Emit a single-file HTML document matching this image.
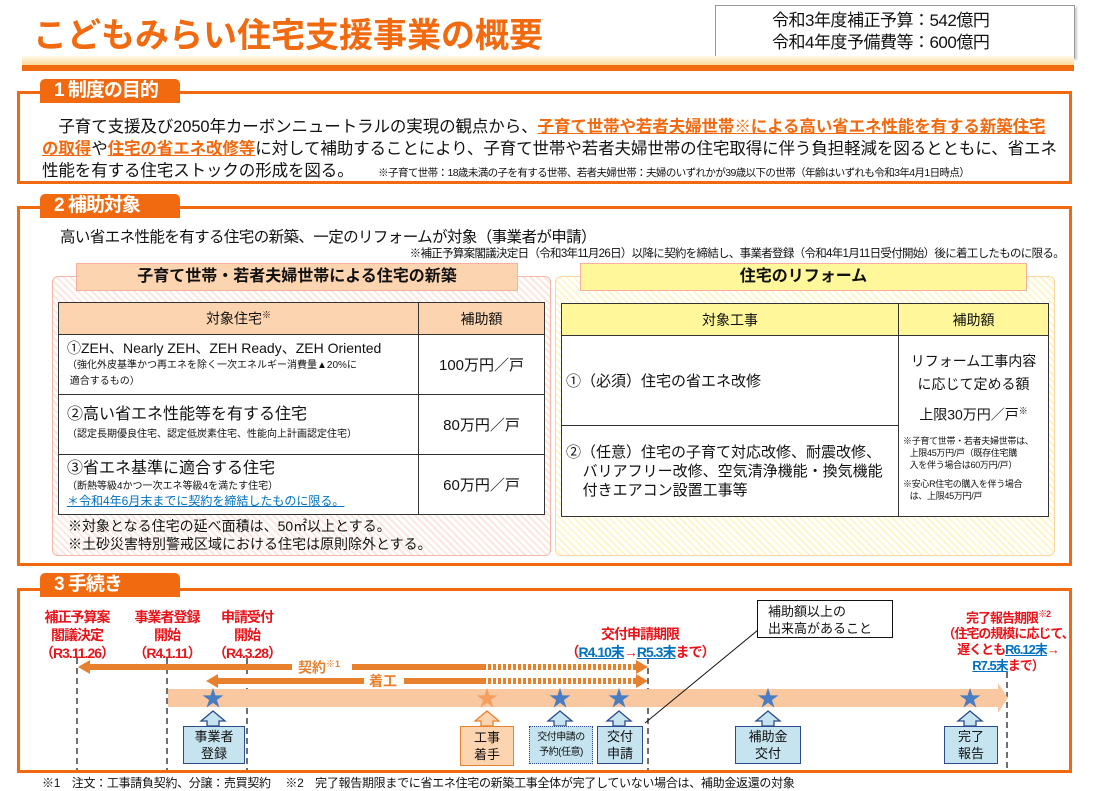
<!DOCTYPE html>
<html><head><meta charset="utf-8"><style>
*{margin:0;padding:0;box-sizing:border-box}
body{width:1100px;height:791px;background:#fff;position:relative;overflow:hidden;font-family:"Liberation Sans","Noto Sans CJK JP",sans-serif;color:#111}
.a{position:absolute;white-space:nowrap}
.tab{position:absolute;background:#f26a10;color:#fff;font-size:19px;font-weight:bold;border-radius:5px 5px 0 0;padding-left:14px;line-height:24px;letter-spacing:-1px}
.box{position:absolute;border:3px solid #f26a10}
.o{color:#f26a10;font-weight:bold;text-decoration:underline}
.r{color:#e8141a;font-weight:bold;text-align:center;font-size:14px;line-height:18px;letter-spacing:-1px}
.b{color:#0070c0;text-decoration:underline}
table{border-collapse:collapse;position:absolute;background:#fff}
td{border:1.5px solid #333;vertical-align:middle}
.tb{position:absolute;background:#c6e4ef;border:1.5px solid #2a4b8c;font-size:13px;text-align:center;line-height:17px;display:flex;align-items:center;justify-content:center}
</style></head><body>
<div class="a" style="left:33px;top:8px;font-size:34px;font-weight:bold;color:#f26a10;letter-spacing:0px">こどもみらい住宅支援事業の概要</div>
<div class="a" style="left:715px;top:5px;width:360px;height:53px;border:1px solid #999;box-shadow:2px 2px 2px #ccc;font-size:17px;line-height:22px;padding:4px 0 0 56px;letter-spacing:-0.5px">令和3年度補正予算：542億円<br>令和4年度予備費等：600億円</div>
<div class="a" style="left:22px;top:56px;width:1052px;height:9px;background:linear-gradient(#fffbe8,#fbd89a)"></div>
<div class="a" style="left:22px;top:65px;width:1052px;height:6px;background:#f26a10"></div>

<div class="box" style="left:17px;top:91px;width:1055px;height:93px"></div>
<div class="tab" style="left:40px;top:79px;width:140px">1 制度の目的</div>
<div class="a" style="left:42px;top:116px;font-size:16.5px;line-height:22px;letter-spacing:-0.1px">　子育て支援及び2050年カーボンニュートラルの実現の観点から、<span class="o">子育て世帯や若者夫婦世帯※による高い省エネ性能を有する新築住宅</span><br><span class="o">の取得</span>や<span class="o">住宅の省エネ改修等</span>に対して補助することにより、子育て世帯や若者夫婦世帯の住宅取得に伴う負担軽減を図るとともに、省エネ<br>性能を有する住宅ストックの形成を図る。　　<span style="font-size:10.5px;letter-spacing:-0.6px">※子育て世帯：18歳未満の子を有する世帯、若者夫婦世帯：夫婦のいずれかが39歳以下の世帯（年齢はいずれも令和3年4月1日時点）</span></div>

<div class="box" style="left:17px;top:206px;width:1055px;height:360px"></div>
<div class="tab" style="left:40px;top:194px;width:140px">2 補助対象</div>
<div class="a" style="left:60px;top:225px;font-size:15.5px;letter-spacing:-0.6px">高い省エネ性能を有する住宅の新築、一定のリフォームが対象（事業者が申請）</div>
<div class="a" style="right:36px;top:245px;font-size:11.5px;letter-spacing:-0.7px">※補正予算案閣議決定日（令和3年11月26日）以降に契約を締結し、事業者登録（令和4年1月11日受付開始）後に着工したものに限る。</div>

<div class="a" style="left:52px;top:276px;width:499px;height:280px;border:1.5px solid #f4b6a8;border-radius:6px;background:repeating-linear-gradient(45deg,#fff 0 3px,#fde6df 3px 5px)"></div>
<div class="a" style="left:76px;top:263px;width:442px;height:28px;background:#fcd5b0;border:1.5px solid #f5b0a0;font-size:16px;font-weight:bold;text-align:center;line-height:26px">子育て世帯・若者夫婦世帯による住宅の新築</div>
<table style="left:58px;top:302px;width:487px">
<tr style="height:32px;background:#fcd5b0;font-size:14px;text-align:center"><td style="width:360px">対象住宅<sup style="font-size:9px">※</sup></td><td>補助額</td></tr>
<tr style="height:60px"><td style="padding-left:8px;font-size:14px;line-height:15px">①ZEH、Nearly ZEH、ZEH Ready、ZEH Oriented<br><span style="font-size:10px;line-height:12px">（強化外皮基準かつ再エネを除く一次エネルギー消費量▲20%に<br>&nbsp;適合するもの）</span></td><td style="text-align:center;font-size:15px">100万円／戸</td></tr>
<tr style="height:60px"><td style="padding-left:8px;font-size:16px;line-height:18px">②高い省エネ性能等を有する住宅<br><span style="font-size:10px">（認定長期優良住宅、認定低炭素住宅、性能向上計画認定住宅）</span></td><td style="text-align:center;font-size:15px">80万円／戸</td></tr>
<tr style="height:60px"><td style="padding-left:8px;font-size:16px;line-height:16px">③省エネ基準に適合する住宅<br><span style="font-size:10px;line-height:13px">（断熱等級4かつ一次エネ等級4を満たす住宅）<br><span class="b" style="font-size:12px">＊令和4年6月末までに契約を締結したものに限る。</span></span></td><td style="text-align:center;font-size:15px">60万円／戸</td></tr>
</table>
<div class="a" style="left:68px;top:517px;font-size:14px;line-height:18px">※対象となる住宅の延べ面積は、50㎡以上とする。<br>※土砂災害特別警戒区域における住宅は原則除外とする。</div>

<div class="a" style="left:555px;top:276px;width:500px;height:280px;border:1.5px solid #fbd6a0;border-radius:6px;background:repeating-linear-gradient(45deg,#fff 0 3px,#fdf6cc 3px 5px)"></div>
<div class="a" style="left:580px;top:263px;width:447px;height:28px;background:#fff799;border:1.5px solid #f5b0a0;font-size:16px;font-weight:bold;text-align:center;line-height:26px">住宅のリフォーム</div>
<table style="left:561px;top:303px;width:488px">
<tr style="height:32px;background:#fff799;font-size:14px;text-align:center"><td style="width:337px">対象工事</td><td>補助額</td></tr>
<tr style="height:90px"><td style="padding-left:4px;font-size:15px">①（必須）住宅の省エネ改修</td><td rowspan="2" style="text-align:center;vertical-align:top;padding-top:14px"><div style="font-size:14px;line-height:23px">リフォーム工事内容<br>に応じて定める額</div><div style="font-size:14px;margin-top:8px">上限30万円／戸<sup style="font-size:9px">※</sup></div><div style="font-size:9px;text-align:left;line-height:12px;margin:10px 0 0 4px;letter-spacing:-0.3px">※子育て世帯・若者夫婦世帯は、<br>&nbsp;&nbsp;&nbsp;上限45万円/戸（既存住宅購<br>&nbsp;&nbsp;&nbsp;入を伴う場合は60万円/戸）<div style="margin-top:7px">※安心R住宅の購入を伴う場合<br>&nbsp;&nbsp;&nbsp;は、上限45万円/戸</div></div></td></tr>
<tr style="height:91px"><td style="padding-left:4px;font-size:15px;line-height:19px">②（任意）住宅の子育て対応改修、耐震改修、<br>&nbsp;&nbsp;&nbsp;&nbsp;バリアフリー改修、空気清浄機能・換気機能<br>&nbsp;&nbsp;&nbsp;&nbsp;付きエアコン設置工事等</td></tr>
</table>

<div class="box" style="left:17px;top:588px;width:1055px;height:185px"></div>
<div class="tab" style="left:40px;top:573px;width:140px">3 手続き</div>

<svg class="a" style="left:0;top:0" width="1100" height="791">
<g stroke="#111" stroke-width="1.2" stroke-dasharray="6,4">
<line x1="77" y1="658" x2="77" y2="770"/><line x1="167" y1="658" x2="167" y2="770"/><line x1="247" y1="658" x2="247" y2="770"/><line x1="648" y1="658" x2="648" y2="770"/><line x1="1007" y1="672" x2="1007" y2="770"/>
</g>
<polygon points="168,689 998,689 998,683 1008,698 998,713 998,707 168,707" fill="#f9c8a0"/>
<g fill="#e8812d">
<rect x="88" y="664" width="204" height="6"/><polygon points="78,667 90,660 90,674"/>
<rect x="352" y="664" width="134" height="6"/>
<rect x="218" y="678" width="146" height="6"/><polygon points="206,681 218,674 218,688"/>
<rect x="404" y="678" width="82" height="6"/>
<polygon points="636,660 648,667 636,674"/><polygon points="636,674 648,681 636,688"/>
</g>
<g stroke="#e8812d" stroke-width="6" stroke-dasharray="3,2"><line x1="488" y1="667" x2="636" y2="667"/><line x1="488" y1="681" x2="636" y2="681"/></g>
<g fill="#4a7ec4">
<text x="213" y="706" font-size="22" text-anchor="middle">★</text>
<text x="560" y="706" font-size="22" text-anchor="middle">★</text>
<text x="619" y="706" font-size="22" text-anchor="middle">★</text>
<text x="768" y="706" font-size="22" text-anchor="middle">★</text>
<text x="970" y="706" font-size="22" text-anchor="middle">★</text>
</g>
<text x="487" y="706" font-size="22" text-anchor="middle" fill="#f5a060">★</text>
<g stroke="#2a4b8c" stroke-width="1.3" fill="#c6e4ef">
<polygon points="213,711 225,721 219,721 219,726 207,726 207,721 201,721"/>
<polygon points="560,711 572,721 566,721 566,726 554,726 554,721 548,721"/>
<polygon points="619,711 631,721 625,721 625,726 613,726 613,721 607,721"/>
<polygon points="768,711 780,721 774,721 774,726 762,726 762,721 756,721"/>
<polygon points="970,711 982,721 976,721 976,726 964,726 964,721 958,721"/>
</g>
<polygon points="487,711 499,721 493,721 493,726 481,726 481,721 475,721" fill="#fcd5b0" stroke="#e8812d" stroke-width="1.3"/>
<line x1="758" y1="630" x2="645" y2="723" stroke="#111" stroke-width="1"/>
</svg>
<div class="a" style="left:298px;top:657px;font-size:14px;font-weight:bold;color:#e8812d">契約<sup style="font-size:9px">※1</sup></div>
<div class="a" style="left:369px;top:671px;font-size:14px;font-weight:bold;color:#e8812d">着工</div>

<div class="tb" style="left:183px;top:726px;width:62px;height:38px">事業者<br>登録</div>
<div class="tb" style="left:460px;top:726px;width:54px;height:40px;background:#fcd5b0;border-color:#e8812d">工事<br>着手</div>
<div class="tb" style="left:529px;top:726px;width:64px;height:38px;border-style:dotted;font-size:10px;line-height:15px;letter-spacing:-0.5px">交付申請の<br>予約(任意)</div>
<div class="tb" style="left:597px;top:726px;width:46px;height:38px">交付<br>申請</div>
<div class="tb" style="left:735px;top:726px;width:66px;height:38px">補助金<br>交付</div>
<div class="tb" style="left:944px;top:726px;width:54px;height:38px">完了<br>報告</div>
<div class="a" style="left:757px;top:600px;width:136px;height:38px;border:1.5px solid #111;background:#fff;font-size:13px;line-height:17px;padding:2px 0 0 10px">補助額以上の<br>出来高があること</div>

<div class="a r" style="left:27px;top:608px;width:100px">補正予算案<br>閣議決定<br>（R3.11.26）</div>
<div class="a r" style="left:117px;top:608px;width:100px">事業者登録<br>開始<br>（R4.1.11）</div>
<div class="a r" style="left:197px;top:608px;width:100px">申請受付<br>開始<br>（R4.3.28）</div>
<div class="a r" style="left:560px;top:625px;width:160px">交付申請期限<br>（<span class="b">R4.10末</span>→<span class="b">R5.3末</span>まで）</div>
<div class="a r" style="left:938px;top:606px;width:140px;line-height:16px;font-size:13px">完了報告期限<sup style="font-size:9px">※2</sup><br>（住宅の規模に応じて、<br>遅くとも<span class="b">R6.12末</span>→<br><span class="b">R7.5末</span>まで）</div>
<div class="a" style="left:42px;top:774px;font-size:12px;letter-spacing:-0.3px">※1　注文：工事請負契約、分譲：売買契約　 ※2　完了報告期限までに省エネ住宅の新築工事全体が完了していない場合は、補助金返還の対象</div>
</body></html>
